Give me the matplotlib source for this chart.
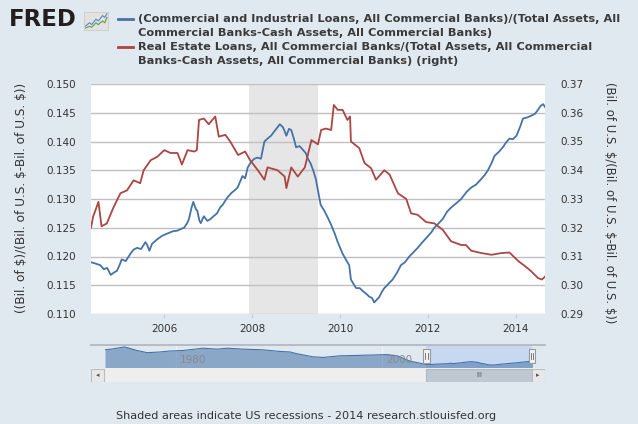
import numpy as np
import matplotlib
matplotlib.use("Agg")
import matplotlib.pyplot as plt
from matplotlib.lines import Line2D
from matplotlib.patches import Rectangle
import matplotlib.transforms as mtransforms

W, H = 638, 424
BG = '#e1e9f0'
TXT = '#333333'
BLUE = '#4572a7'
RED = '#aa4643'

# C&I loans / (total assets - cash), left axis
ci_years = [2004.33, 2004.42, 2004.54, 2004.62, 2004.70, 2004.78, 2004.85, 2004.92, 2004.98,
            2005.03, 2005.12, 2005.23, 2005.30, 2005.38, 2005.47, 2005.57, 2005.61, 2005.66,
            2005.72, 2005.84, 2005.95, 2006.07, 2006.20, 2006.30, 2006.38, 2006.45, 2006.52,
            2006.56, 2006.62, 2006.66, 2006.72, 2006.75, 2006.80, 2006.83, 2006.90, 2006.98,
            2007.05, 2007.12, 2007.20, 2007.27, 2007.33, 2007.43, 2007.52, 2007.60, 2007.67,
            2007.78, 2007.84, 2007.90, 2007.98, 2008.05, 2008.12, 2008.20, 2008.24, 2008.28,
            2008.35, 2008.43, 2008.53, 2008.63, 2008.70, 2008.74, 2008.78, 2008.84, 2008.89,
            2008.95, 2009.00, 2009.08, 2009.16, 2009.22, 2009.27, 2009.33, 2009.39, 2009.45,
            2009.50, 2009.56, 2009.64, 2009.72, 2009.80, 2009.88, 2009.95, 2010.06, 2010.17,
            2010.21, 2010.25, 2010.31, 2010.37, 2010.45, 2010.52, 2010.60, 2010.67, 2010.73,
            2010.78, 2010.84, 2010.90, 2010.95, 2011.01, 2011.10, 2011.20, 2011.30, 2011.39,
            2011.48, 2011.58, 2011.68, 2011.77, 2011.88, 2012.00, 2012.08, 2012.15, 2012.25,
            2012.34, 2012.44, 2012.53, 2012.64, 2012.76, 2012.88, 2012.99, 2013.10, 2013.22,
            2013.30, 2013.37, 2013.45, 2013.52, 2013.62, 2013.71, 2013.78, 2013.86, 2013.94,
            2014.02, 2014.10, 2014.17, 2014.27, 2014.36, 2014.44, 2014.51, 2014.57, 2014.63,
            2014.67]
ci_vals = [0.1190, 0.1188, 0.1185, 0.1178, 0.1180, 0.1168, 0.1172, 0.1175, 0.1185,
           0.1195, 0.1192, 0.1205, 0.1212, 0.1215, 0.1213, 0.1225, 0.1220, 0.1210,
           0.1222, 0.1230, 0.1236, 0.1240, 0.1244, 0.1245, 0.1248, 0.1250, 0.1258,
           0.1265, 0.1285, 0.1295, 0.1282, 0.1280, 0.1262, 0.1258, 0.1270, 0.1262,
           0.1265, 0.1270, 0.1275, 0.1285, 0.1290, 0.1302, 0.1310, 0.1315, 0.1320,
           0.1340, 0.1336, 0.1355, 0.1365, 0.1370, 0.1372, 0.1370, 0.1385, 0.1400,
           0.1405, 0.1410, 0.1420, 0.1430, 0.1425, 0.1418, 0.1410, 0.1422, 0.1420,
           0.1405, 0.1390, 0.1392, 0.1385, 0.1380, 0.1370, 0.1362, 0.1350, 0.1335,
           0.1315, 0.1290, 0.1280, 0.1268, 0.1255, 0.1240, 0.1225, 0.1205, 0.1190,
           0.1185, 0.1160, 0.1152, 0.1145, 0.1145, 0.1140, 0.1135, 0.1130, 0.1128,
           0.1120, 0.1125, 0.1130, 0.1138, 0.1145, 0.1152, 0.1160, 0.1172, 0.1185,
           0.1190, 0.1200, 0.1208, 0.1215, 0.1225, 0.1235, 0.1242, 0.1250, 0.1258,
           0.1265, 0.1278, 0.1285, 0.1292, 0.1300, 0.1312, 0.1320, 0.1325, 0.1335,
           0.1342, 0.1350, 0.1362, 0.1375, 0.1382, 0.1390, 0.1398, 0.1405, 0.1404,
           0.1410, 0.1425, 0.1440, 0.1442, 0.1445, 0.1448, 0.1455, 0.1462, 0.1465,
           0.1460]

# real estate loans / (total assets - cash), right axis
re_years = [2004.33, 2004.38, 2004.42, 2004.50, 2004.57, 2004.69, 2004.84, 2005.00, 2005.15,
            2005.30, 2005.45, 2005.53, 2005.69, 2005.84, 2006.00, 2006.14, 2006.30, 2006.40,
            2006.53, 2006.68, 2006.74, 2006.79, 2006.90, 2007.01, 2007.16, 2007.24, 2007.39,
            2007.50, 2007.68, 2007.84, 2007.95, 2008.13, 2008.28, 2008.35, 2008.58, 2008.74,
            2008.78, 2008.89, 2009.04, 2009.20, 2009.35, 2009.50, 2009.57, 2009.68, 2009.80,
            2009.86, 2009.95, 2010.06, 2010.17, 2010.23, 2010.25, 2010.44, 2010.56, 2010.71,
            2010.82, 2011.01, 2011.13, 2011.32, 2011.51, 2011.62, 2011.77, 2011.96, 2012.15,
            2012.34, 2012.53, 2012.76, 2012.87, 2012.99, 2013.22, 2013.45, 2013.68, 2013.86,
            2014.07, 2014.22, 2014.36, 2014.51, 2014.60, 2014.67]
re_vals = [0.3200, 0.3240, 0.3256, 0.3290, 0.3205, 0.3215, 0.3270, 0.3320, 0.3330,
           0.3365, 0.3355, 0.3400, 0.3435, 0.3447, 0.3470, 0.3460, 0.3460, 0.3420,
           0.3470, 0.3465, 0.3470, 0.3575, 0.3580, 0.3560, 0.3587, 0.3517, 0.3523,
           0.3500, 0.3453, 0.3465, 0.3436, 0.3400, 0.3367, 0.3410, 0.3400, 0.3378,
           0.3338, 0.3410, 0.3378, 0.3410, 0.3505, 0.3490, 0.3540, 0.3545, 0.3540,
           0.3627, 0.3610, 0.3610, 0.3575, 0.3587, 0.3500, 0.3477, 0.3425, 0.3407,
           0.3367, 0.3400, 0.3385, 0.3320, 0.3300, 0.3250, 0.3245, 0.3220, 0.3215,
           0.3193, 0.3153, 0.3140, 0.3140, 0.3120, 0.3112, 0.3106, 0.3112, 0.3114,
           0.3083, 0.3066, 0.3048, 0.3025, 0.3020, 0.3030]

# long history of the C&I ratio for the navigator
nav_years = [1973.1, 1973.9, 1975.0, 1976.2, 1977.2, 1978.4, 1979.4, 1980.7, 1982.6,
             1984.0, 1985.0, 1986.5, 1988.4, 1990.1, 1991.1, 1991.7, 1993.3, 1994.3,
             1995.9, 1998.2, 2000.5, 2001.5, 2002.7, 2003.7]
nav_vals = [0.248, 0.2565, 0.2735, 0.242, 0.2225, 0.2285, 0.237, 0.242, 0.262,
            0.254, 0.262, 0.254, 0.248, 0.2335, 0.2285, 0.214, 0.186, 0.180,
            0.1945, 0.1995, 0.2055, 0.1945, 0.1485, 0.129]

recession = (2007.92, 2009.50)
x_ticks = [2006, 2008, 2010, 2012, 2014]
left_ticks = np.arange(0.110, 0.1501, 0.005)
right_ticks = np.arange(0.29, 0.3701, 0.01)
nav_ticks = [1980, 2000]

legend_lines = ["(Commercial and Industrial Loans, All Commercial Banks)/(Total Assets, All",
                "Commercial Banks-Cash Assets, All Commercial Banks)",
                "Real Estate Loans, All Commercial Banks/(Total Assets, All Commercial",
                "Banks-Cash Assets, All Commercial Banks) (right)"]


def fx(px):
    return px / W


def fy(py):
    return 1 - py / H


fig = plt.figure(figsize=(W / 100, H / 100), dpi=100, facecolor=BG)

# main plot
ax = fig.add_axes([fx(91), fy(314), 454 / W, 230 / H])
ax.set_facecolor('white')
ax.set_axisbelow(True)
ax.axvspan(*recession, color='#e6e6e6', lw=0, zorder=0.2)
ax.plot(ci_years, ci_vals, color=BLUE, lw=1.3, zorder=3)
ax.set_xlim(2004.33, 2014.67)
ax.set_ylim(0.110, 0.150)
ax.set_yticks(left_ticks)
ax.set_yticklabels(['%.3f' % v for v in left_ticks])
ax.yaxis.grid(True, color='#c0c0c0', lw=1)
ax.set_xticks(x_ticks)
ax.set_xticklabels([str(t) for t in x_ticks])
ax.tick_params(axis='y', length=0, pad=11, labelsize=7.5, labelcolor=TXT)
ax.tick_params(axis='x', length=3, width=1, color='#c0d0e0', pad=4, labelsize=7.5, labelcolor=TXT)
for s in ax.spines.values():
    s.set_visible(False)

ax2 = ax.twinx()
ax2.plot(re_years, re_vals, color=RED, lw=1.3)
ax2.set_ylim(0.29, 0.37)
ax2.set_yticks(right_ticks)
ax2.set_yticklabels(['%.2f' % v for v in right_ticks])
ax2.tick_params(axis='y', length=0, pad=11, labelsize=7.5, labelcolor=TXT)
for s in ax2.spines.values():
    s.set_visible(False)

fig.text(fx(22), fy(198), "((Bil. of $)/(Bil. of U.S. $-Bil. of U.S. $))", rotation=90,
         ha='center', va='center', fontsize=8.7, color=TXT)
fig.text(fx(609), fy(203), "(Bil. of U.S. $/(Bil. of U.S. $-Bil. of U.S. $))", rotation=270,
         ha='center', va='center', fontsize=8.4, color=TXT)

# header: logo and legend
fig.text(fx(9), fy(20), "FRED", fontsize=16.5, fontweight='heavy', color='#231f20',
         ha='left', va='center')
icon = fig.add_axes([fx(84), fy(30), 24 / W, 18 / H])
icon.set_facecolor('#e2e2e2')
icon.plot([0, 2, 3, 5, 6, 8, 9, 10], [2, 4, 3, 6, 5, 8, 7, 9], color='#5b86c0', lw=0.8)
icon.plot([0, 2, 3, 5, 6, 8, 9, 10], [1, 2, 1.5, 4, 3, 5, 4, 7], color='#5aa14a', lw=0.8)
icon.set_xlim(-0.5, 10.5)
icon.set_ylim(0, 10)
icon.set_xticks([])
icon.set_yticks([])
for s in icon.spines.values():
    s.set_color('#d0d0d0')

for i, line in enumerate(legend_lines):
    fig.text(fx(138), fy(19 + 14 * i), line, fontsize=8.2, fontweight='bold', color='#3a3a3a',
             ha='left', va='center')
fig.add_artist(Line2D([fx(118), fx(133)], [fy(19), fy(19)], color=BLUE, lw=2))
fig.add_artist(Line2D([fx(118), fx(133)], [fy(47), fy(47)], color=RED, lw=2))

# navigator
nav_x0, nav_x1 = 1973.1, 2014.6
nav = fig.add_axes([fx(105), fy(368), (532 - 105) / W, 23 / H])
nav.set_facecolor(BG)
nav.axvspan(ci_years[0], nav_x1, color='#c6d9f1', lw=0, zorder=0)
for t in nav_ticks:
    nav.axvline(t, color='#f0f4f8', lw=1, zorder=0.5)
    nav.text(t + 0.4, 0.35, str(t), transform=nav.get_xaxis_transform(), fontsize=7.5,
             color='#8a8a8a', ha='left', va='center', zorder=4)
all_years = nav_years + ci_years
all_vals = nav_vals + ci_vals
nav.fill_between(all_years, all_vals, 0.0865, color=BLUE, alpha=0.55, lw=0, zorder=2)
nav.plot(all_years, all_vals, color=BLUE, lw=0.8, zorder=3)
nav.set_xlim(nav_x0, nav_x1)
nav.set_ylim(0.0865, 0.2905)
nav.set_xticks([])
nav.set_yticks([])
for s in nav.spines.values():
    s.set_visible(False)
fig.add_artist(Line2D([fx(91), fx(545)], [fy(344.5), fy(344.5)], color='#b8bcc4', lw=1.5))

hb = mtransforms.blended_transform_factory(nav.transData, fig.transFigure)
hw = (nav_x1 - nav_x0) / 427 * 7
for hx in (ci_years[0], nav_x1):
    nav.add_patch(Rectangle((hx - hw / 2, fy(363)), hw, 14 / H, transform=hb, clip_on=False,
                            facecolor='#f2f2f2', edgecolor='#999999', lw=0.8, zorder=6))
    for dx in (-0.12, 0.12):
        nav.add_line(Line2D([hx + dx, hx + dx], [fy(359), fy(353)], transform=hb,
                            color='#666666', lw=0.6, clip_on=False, zorder=7))

# scrollbar
sb = fig.add_axes([fx(91), fy(382), 454 / W, 14 / H])
sb.set_xlim(91, 545)
sb.set_ylim(0, 14)
sb.set_facecolor('#eeeeee')
sb.set_xticks([])
sb.set_yticks([])
for s in sb.spines.values():
    s.set_visible(False)


def nav_px(year):
    return 105 + (year - nav_x0) / (nav_x1 - nav_x0) * 427


t0, t1 = nav_px(ci_years[0]), nav_px(nav_x1)
sb.add_patch(Rectangle((t0, 0.5), t1 - t0, 13, facecolor='#bfc8d1', edgecolor='#b0b8c0', lw=0.8))
sb.text((t0 + t1) / 2, 7, "III", fontsize=5, color='#555555', ha='center', va='center')
for bx, arrow in ((91, '◂'), (531, '▸')):
    sb.add_patch(Rectangle((bx + 0.5, 0.5), 13, 13, facecolor='#e8e8e8', edgecolor='#bbbbbb', lw=0.8))
    sb.text(bx + 7, 7, arrow, fontsize=5, color='#555555', ha='center', va='center')

fig.text(fx(116), fy(416), "Shaded areas indicate US recessions - 2014 research.stlouisfed.org",
         fontsize=8.1, color=TXT, ha='left', va='center')

fig.savefig('out.png', dpi=100, facecolor=BG)
